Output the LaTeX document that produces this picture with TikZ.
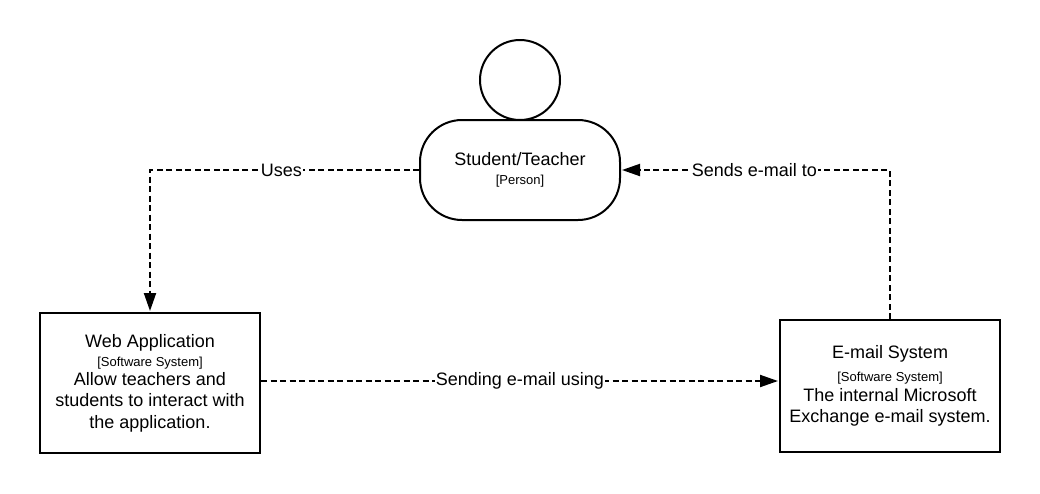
\documentclass[tikz,border=0pt]{standalone}
\usepackage{fontspec}
\setmainfont{Liberation Sans}
\usetikzlibrary{arrows.meta}
\newcommand{\smalltag}[1]{{\fontsize{13}{15}\selectfont #1}}
\tikzset{
 px/.style={x=1pt,y=-1pt},
 box/.style={draw=black,line width=2pt,fill=white,minimum width=220pt,align=center,inner sep=0pt,font=\fontsize{18}{21.5}\selectfont},
 link/.style={draw=black,line width=2pt,dash pattern=on 6pt off 3.5pt,-{Triangle[length=18pt,width=12pt]},shorten >=1pt},
 lab/.style={fill=white,inner xsep=1pt,inner ysep=1pt,font=\fontsize{18}{21}\selectfont}
}
\begin{document}
\begin{tikzpicture}[px]
\useasboundingbox (0,0) rectangle (1040,493);
\node[draw=black,line width=2pt,circle,minimum size=80pt,inner sep=0pt] (head) at (520,80) {};
\node[box,rounded corners=42pt,minimum width=200pt,minimum height=100pt] (person) at (520,170) {Student/Teacher\\[-2.5pt]\smalltag{[Person]}};
\node[box,minimum height=140pt] (web) at (150,383) {Web Application\\[-2.5pt]\smalltag{[Software System]}\\[-2.5pt]Allow teachers and\\students to interact with\\the application.};
\node[box,minimum height=132pt] (mail) at (890,386) {E-mail System\\[1pt]\smalltag{[Software System]}\\[-1.5pt]The internal Microsoft\\Exchange e-mail system.};
\coordinate (lane) at (520,381);
\draw[link] (person.west) -| node[lab,pos=0.2556] {Uses} (web.north);
\draw[link] (mail.north) |- node[lab,pos=0.752] {Sends e-mail to} (person.east);
\draw[link] (web.east |- lane) -- node[lab] {Sending e-mail using} (mail.west |- lane);
\end{tikzpicture}
\end{document}
